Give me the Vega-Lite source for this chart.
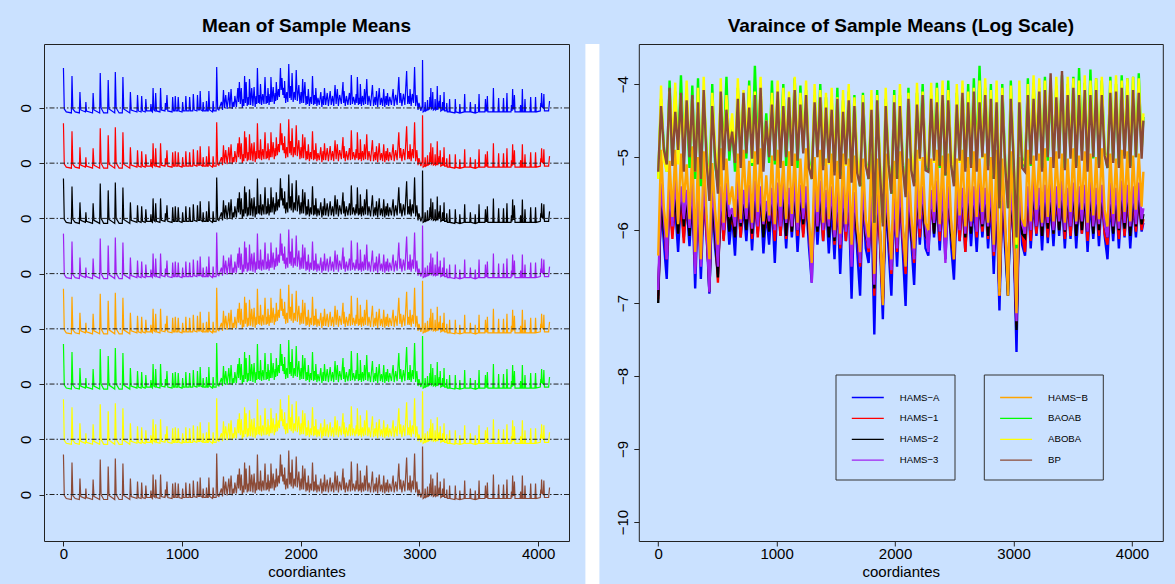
{
"$schema":"https://vega.github.io/schema/vega-lite/v6.json",
"background":"#CAE1FF",
"padding":{"left":0,"top":0,"right":12,"bottom":0},
"spacing":15.4,
"resolve":{"scale":{"color":"independent","stroke":"independent"},"legend":{"color":"independent","stroke":"independent"}},
"config":{
 "view":{"stroke":"#222","strokeWidth":1},
 "axis":{"labelFont":"Liberation Sans","labelFontSize":15,"labelColor":"#000","tickColor":"#222","tickSize":5,"tickWidth":1,"domain":false,"grid":false,"titleFont":"Liberation Sans","titleFontSize":15,"titleFontWeight":"normal","titleColor":"#000"},
 "title":{"font":"Liberation Sans","fontSize":19,"fontWeight":"bold","color":"#000","anchor":"middle"},
 "legend":{"labelFont":"Liberation Sans","labelFontSize":9.6,"labelColor":"#000"}
},
"datasets":{
"m":[
{"x":1,"a":40,"b":40,"c":40,"d":40,"e":40,"f":40,"g":40,"h":40},
{"x":8,"a":-1,"b":-1,"c":-1,"d":-1,"e":-1,"f":-1,"g":-1,"h":-1},
{"x":25,"a":-4,"b":-4,"c":-4,"d":-4,"e":-4,"f":-4,"g":-4,"h":-4},
{"x":68,"a":-5,"b":-5,"c":-5,"d":-5,"e":-5,"f":-5,"g":-5,"h":-5},
{"x":73,"a":32,"b":32,"c":32,"d":32,"e":32,"f":32,"g":32,"h":32},
{"x":80,"a":-1,"b":-1,"c":-1,"d":-1,"e":-1,"f":-1,"g":-1,"h":-1},
{"x":100,"a":-4,"b":-4,"c":-4,"d":-4,"e":-4,"f":-4,"g":-4,"h":-4},
{"x":135,"a":-5,"b":-5,"c":-5,"d":-5,"e":-5,"f":-5,"g":-5,"h":-5},
{"x":140,"a":16,"b":16,"c":16,"d":16,"e":16,"f":16,"g":16,"h":16},
{"x":147,"a":-2,"b":-2,"c":-2,"d":-2,"e":-2,"f":-2,"g":-2,"h":-2},
{"x":186,"a":-4,"b":-4,"c":-4,"d":-4,"e":-4,"f":-4,"g":-4,"h":-4},
{"x":190,"a":6,"b":6,"c":6,"d":6,"e":6,"f":6,"g":6,"h":6},
{"x":195,"a":-3,"b":-3,"c":-3,"d":-3,"e":-3,"f":-3,"g":-3,"h":-3},
{"x":246,"a":-5,"b":-5,"c":-5,"d":-5,"e":-5,"f":-5,"g":-5,"h":-5},
{"x":251,"a":15,"b":15,"c":15,"d":15,"e":15,"f":15,"g":15,"h":15},
{"x":258,"a":-2,"b":-2,"c":-2,"d":-2,"e":-2,"f":-2,"g":-2,"h":-2},
{"x":306,"a":-5,"b":-5,"c":-5,"d":-5,"e":-5,"f":-5,"g":-5,"h":-5},
{"x":311,"a":35,"b":35,"c":35,"d":35,"e":35,"f":35,"g":35,"h":35},
{"x":318,"a":0,"b":0,"c":0,"d":0,"e":0,"f":0,"g":0,"h":0},
{"x":340,"a":-5,"b":-5,"c":-5,"d":-5,"e":-5,"f":-5,"g":-5,"h":-5},
{"x":373,"a":-5,"b":-5,"c":-5,"d":-5,"e":-5,"f":-5,"g":-5,"h":-5},
{"x":378,"a":28,"b":28,"c":28,"d":28,"e":28,"f":28,"g":28,"h":28},
{"x":385,"a":-1,"b":-1,"c":-1,"d":-1,"e":-1,"f":-1,"g":-1,"h":-1},
{"x":433,"a":-5,"b":-5,"c":-5,"d":-5,"e":-5,"f":-5,"g":-5,"h":-5},
{"x":438,"a":36,"b":36,"c":36,"d":36,"e":36,"f":36,"g":36,"h":36},
{"x":445,"a":0,"b":0,"c":0,"d":0,"e":0,"f":0,"g":0,"h":0},
{"x":470,"a":-5,"b":-5,"c":-5,"d":-5,"e":-5,"f":-5,"g":-5,"h":-5},
{"x":497,"a":-5,"b":-5,"c":-5,"d":-5,"e":-5,"f":-5,"g":-5,"h":-5},
{"x":502,"a":31,"b":31,"c":31,"d":31,"e":31,"f":31,"g":31,"h":31},
{"x":509,"a":-1,"b":-1,"c":-1,"d":-1,"e":-1,"f":-1,"g":-1,"h":-1},
{"x":560,"a":-5,"b":-5,"c":-5,"d":-5,"e":-5,"f":-5,"g":-5,"h":-5},
{"x":565,"a":16,"b":16,"c":16,"d":16,"e":16,"f":16,"g":16,"h":16},
{"x":572,"a":-2,"b":-2,"c":-2,"d":-2,"e":-2,"f":-2,"g":-2,"h":-2},
{"x":620,"a":-4,"b":-4,"c":-4,"d":-4,"e":-4,"f":-4,"g":-4,"h":-4},
{"x":625,"a":13,"b":13,"c":13,"d":13,"e":13,"f":13,"g":13,"h":13},
{"x":632,"a":-3,"b":-3,"c":-3,"d":-3,"e":-3,"f":-3,"g":-3,"h":-3},
{"x":655,"a":-4,"b":-4,"c":-4,"d":-4,"e":-4,"f":-4,"g":-4,"h":-4},
{"x":660,"a":12,"b":12,"c":12,"d":12,"e":12,"f":12,"g":12,"h":12},
{"x":667,"a":-3,"b":-3,"c":-3,"d":-3,"e":-3,"f":-3,"g":-3,"h":-3},
{"x":690,"a":-4,"b":-4,"c":-4,"d":-4,"e":-4,"f":-4,"g":-4,"h":-4},
{"x":695,"a":9,"b":9,"c":9,"d":9,"e":9,"f":9,"g":9,"h":9},
{"x":702,"a":-3,"b":-3,"c":-3,"d":-3,"e":-3,"f":-3,"g":-3,"h":-3},
{"x":734,"a":-3,"b":-3,"c":-3,"d":-3,"e":-3,"f":-3,"g":-3,"h":-3},
{"x":738,"a":4,"b":4,"c":4,"d":4,"e":4,"f":4,"g":4,"h":4},
{"x":743,"a":-3,"b":-3,"c":-3,"d":-3,"e":-3,"f":-3,"g":-3,"h":-3},
{"x":751,"a":-4,"b":-4,"c":-4,"d":-4,"e":-4,"f":-4,"g":-4,"h":-4},
{"x":756,"a":20,"b":20,"c":20,"d":20,"e":20,"f":20,"g":20,"h":20},
{"x":763,"a":-2,"b":-2,"c":-2,"d":-2,"e":-2,"f":-2,"g":-2,"h":-2},
{"x":773,"a":-3,"b":-3,"c":-3,"d":-3,"e":-3,"f":-3,"g":-3,"h":-3},
{"x":778,"a":15,"b":15,"c":15,"d":15,"e":15,"f":15,"g":15,"h":15},
{"x":785,"a":-3,"b":-3,"c":-3,"d":-3,"e":-3,"f":-3,"g":-3,"h":-3},
{"x":814,"a":-4,"b":-4,"c":-4,"d":-4,"e":-4,"f":-4,"g":-4,"h":-4},
{"x":819,"a":20,"b":20,"c":20,"d":20,"e":20,"f":20,"g":20,"h":20},
{"x":826,"a":-2,"b":-2,"c":-2,"d":-2,"e":-2,"f":-2,"g":-2,"h":-2},
{"x":856,"a":-3,"b":-3,"c":-3,"d":-3,"e":-3,"f":-3,"g":-3,"h":-3},
{"x":860,"a":5,"b":5,"c":5,"d":5,"e":5,"f":5,"g":5,"h":5},
{"x":866,"a":-2,"b":-2,"c":-2,"d":-2,"e":-2,"f":-2,"g":-2,"h":-2},
{"x":873,"a":13,"b":13,"c":13,"d":13,"e":13,"f":13,"g":13,"h":13},
{"x":880,"a":-3,"b":-3,"c":-3,"d":-3,"e":-3,"f":-3,"g":-3,"h":-3},
{"x":916,"a":-4,"b":-4,"c":-4,"d":-4,"e":-4,"f":-4,"g":-4,"h":-4},
{"x":921,"a":11,"b":11,"c":11,"d":11,"e":11,"f":11,"g":11,"h":11},
{"x":928,"a":-3,"b":-3,"c":-3,"d":-3,"e":-3,"f":-3,"g":-3,"h":-3},
{"x":938,"a":-3,"b":-3,"c":-3,"d":-3,"e":-3,"f":-3,"g":-3,"h":-3},
{"x":943,"a":12,"b":12,"c":12,"d":12,"e":12,"f":12,"g":12,"h":12},
{"x":950,"a":-3,"b":-3,"c":-3,"d":-3,"e":-3,"f":-3,"g":-3,"h":-3},
{"x":963,"a":-3,"b":-3,"c":-3,"d":-3,"e":-3,"f":-3,"g":-3,"h":-3},
{"x":968,"a":11,"b":11,"c":11,"d":11,"e":11,"f":11,"g":11,"h":11},
{"x":975,"a":-3,"b":-3,"c":-3,"d":-3,"e":-3,"f":-3,"g":-3,"h":-3},
{"x":1000,"a":-4,"b":-4,"c":-4,"d":-4,"e":-4,"f":-4,"g":-4,"h":-4},
{"x":1005,"a":6,"b":6,"c":6,"d":6,"e":6,"f":6,"g":6,"h":6},
{"x":1011,"a":-3,"b":-3,"c":-3,"d":-3,"e":-3,"f":-3,"g":-3,"h":-3},
{"x":1027,"a":-3,"b":-3,"c":-3,"d":-3,"e":-3,"f":-3,"g":-3,"h":-3},
{"x":1032,"a":12,"b":12,"c":12,"d":12,"e":12,"f":12,"g":12,"h":12},
{"x":1039,"a":-3,"b":-3,"c":-3,"d":-3,"e":-3,"f":-3,"g":-3,"h":-3},
{"x":1059,"a":-3,"b":-3,"c":-3,"d":-3,"e":-3,"f":-3,"g":-3,"h":-3},
{"x":1064,"a":11,"b":11,"c":11,"d":11,"e":11,"f":11,"g":11,"h":11},
{"x":1071,"a":-3,"b":-3,"c":-3,"d":-3,"e":-3,"f":-3,"g":-3,"h":-3},
{"x":1090,"a":-3,"b":-3,"c":-3,"d":-3,"e":-3,"f":-3,"g":-3,"h":-3},
{"x":1095,"a":14,"b":14,"c":14,"d":14,"e":14,"f":14,"g":14,"h":14},
{"x":1102,"a":-2,"b":-2,"c":-2,"d":-2,"e":-2,"f":-2,"g":-2,"h":-2},
{"x":1125,"a":-3,"b":-3,"c":-3,"d":-3,"e":-3,"f":-3,"g":-3,"h":-3},
{"x":1130,"a":13,"b":13,"c":13,"d":13,"e":13,"f":13,"g":13,"h":13},
{"x":1137,"a":-2,"b":-2,"c":-2,"d":-2,"e":-2,"f":-2,"g":-2,"h":-2},
{"x":1148,"a":-2,"b":-2,"c":-2,"d":-2,"e":-2,"f":-2,"g":-2,"h":-2},
{"x":1153,"a":17,"b":17,"c":17,"d":17,"e":17,"f":17,"g":17,"h":17},
{"x":1160,"a":-2,"b":-2,"c":-2,"d":-2,"e":-2,"f":-2,"g":-2,"h":-2},
{"x":1173,"a":-3,"b":-3,"c":-3,"d":-3,"e":-3,"f":-3,"g":-3,"h":-3},
{"x":1178,"a":6,"b":6,"c":6,"d":6,"e":6,"f":6,"g":6,"h":6},
{"x":1184,"a":-3,"b":-3,"c":-3,"d":-3,"e":-3,"f":-3,"g":-3,"h":-3},
{"x":1201,"a":-3,"b":-3,"c":-3,"d":-3,"e":-3,"f":-3,"g":-3,"h":-3},
{"x":1206,"a":7,"b":7,"c":7,"d":7,"e":7,"f":7,"g":7,"h":7},
{"x":1212,"a":-3,"b":-3,"c":-3,"d":-3,"e":-3,"f":-3,"g":-3,"h":-3},
{"x":1221,"a":-3,"b":-3,"c":-3,"d":-3,"e":-3,"f":-3,"g":-3,"h":-3},
{"x":1226,"a":17,"b":17,"c":17,"d":17,"e":17,"f":17,"g":17,"h":17},
{"x":1233,"a":-2,"b":-2,"c":-2,"d":-2,"e":-2,"f":-2,"g":-2,"h":-2},
{"x":1257,"a":-4,"b":-4,"c":-4,"d":-4,"e":-4,"f":-4,"g":-4,"h":-4},
{"x":1262,"a":7,"b":7,"c":7,"d":7,"e":7,"f":7,"g":7,"h":7},
{"x":1268,"a":-3,"b":-3,"c":-3,"d":-3,"e":-3,"f":-3,"g":-3,"h":-3},
{"x":1287,"a":-3,"b":-3,"c":-3,"d":-3,"e":-3,"f":-3,"g":-3,"h":-3},
{"x":1292,"a":41,"b":41,"c":41,"d":41,"e":41,"f":41,"g":41,"h":41},
{"x":1300,"a":-1,"b":-1,"c":-1,"d":-1,"e":-1,"f":-1,"g":-1,"h":-1},
{"x":1310,"a":-2,"b":-2,"c":-2,"d":-2,"e":-2,"f":-2,"g":-2,"h":-2},
{"x":1332,"a":6,"b":6,"c":6,"d":6,"e":6,"f":6,"g":6,"h":6},
{"x":1341,"a":-2,"b":-2,"c":-2,"d":-2,"e":-2,"f":-2,"g":-2,"h":-2},
{"x":1349,"a":18,"b":18,"c":18,"d":18,"e":18,"f":18,"g":18,"h":18},
{"x":1358,"a":0,"b":0,"c":0,"d":0,"e":0,"f":0,"g":0,"h":0},
{"x":1368,"a":13,"b":13,"c":13,"d":13,"e":13,"f":13,"g":13,"h":13},
{"x":1380,"a":-1,"b":-1,"c":-1,"d":-1,"e":-1,"f":-1,"g":-1,"h":-1},
{"x":1394,"a":16,"b":16,"c":16,"d":16,"e":16,"f":16,"g":16,"h":16},
{"x":1403,"a":0,"b":0,"c":0,"d":0,"e":0,"f":0,"g":0,"h":0},
{"x":1413,"a":19,"b":19,"c":19,"d":19,"e":19,"f":19,"g":19,"h":19},
{"x":1423,"a":-1,"b":-1,"c":-1,"d":-1,"e":-1,"f":-1,"g":-1,"h":-1},
{"x":1432,"a":6,"b":6,"c":6,"d":6,"e":6,"f":6,"g":6,"h":6},
{"x":1438,"a":1,"b":1,"c":1,"d":1,"e":1,"f":1,"g":1,"h":1},
{"x":1445,"a":12,"b":12,"c":12,"d":12,"e":12,"f":12,"g":12,"h":12},
{"x":1458,"a":1,"b":1,"c":1,"d":1,"e":1,"f":1,"g":1,"h":1},
{"x":1470,"a":20,"b":20,"c":20,"d":20,"e":20,"f":20,"g":20,"h":20},
{"x":1476,"a":6,"b":6,"c":6,"d":6,"e":6,"f":6,"g":6,"h":6},
{"x":1483,"a":26,"b":26,"c":26,"d":26,"e":26,"f":26,"g":26,"h":26},
{"x":1491,"a":4,"b":4,"c":4,"d":4,"e":4,"f":4,"g":4,"h":4},
{"x":1499,"a":20,"b":20,"c":20,"d":20,"e":20,"f":20,"g":20,"h":20},
{"x":1508,"a":0,"b":0,"c":0,"d":0,"e":0,"f":0,"g":0,"h":0},
{"x":1516,"a":9,"b":9,"c":9,"d":9,"e":9,"f":9,"g":9,"h":9},
{"x":1521,"a":2,"b":2,"c":2,"d":2,"e":2,"f":2,"g":2,"h":2},
{"x":1527,"a":32,"b":32,"c":32,"d":32,"e":32,"f":32,"g":32,"h":32},
{"x":1534,"a":5,"b":5,"c":5,"d":5,"e":5,"f":5,"g":5,"h":5},
{"x":1540,"a":26,"b":26,"c":26,"d":26,"e":26,"f":26,"g":26,"h":26},
{"x":1549,"a":2,"b":2,"c":2,"d":2,"e":2,"f":2,"g":2,"h":2},
{"x":1558,"a":11,"b":11,"c":11,"d":11,"e":11,"f":11,"g":11,"h":11},
{"x":1563,"a":3,"b":3,"c":3,"d":3,"e":3,"f":3,"g":3,"h":3},
{"x":1568,"a":29,"b":29,"c":29,"d":29,"e":29,"f":29,"g":29,"h":29},
{"x":1578,"a":3,"b":3,"c":3,"d":3,"e":3,"f":3,"g":3,"h":3},
{"x":1587,"a":20,"b":20,"c":20,"d":20,"e":20,"f":20,"g":20,"h":20},
{"x":1597,"a":2,"b":2,"c":2,"d":2,"e":2,"f":2,"g":2,"h":2},
{"x":1607,"a":21,"b":21,"c":21,"d":21,"e":21,"f":21,"g":21,"h":21},
{"x":1616,"a":1,"b":1,"c":1,"d":1,"e":1,"f":1,"g":1,"h":1},
{"x":1624,"a":12,"b":12,"c":12,"d":12,"e":12,"f":12,"g":12,"h":12},
{"x":1629,"a":4,"b":4,"c":4,"d":4,"e":4,"f":4,"g":4,"h":4},
{"x":1635,"a":40,"b":40,"c":40,"d":40,"e":40,"f":40,"g":40,"h":40},
{"x":1643,"a":5,"b":5,"c":5,"d":5,"e":5,"f":5,"g":5,"h":5},
{"x":1650,"a":13,"b":13,"c":13,"d":13,"e":13,"f":13,"g":13,"h":13},
{"x":1655,"a":4,"b":4,"c":4,"d":4,"e":4,"f":4,"g":4,"h":4},
{"x":1661,"a":24,"b":24,"c":24,"d":24,"e":24,"f":24,"g":24,"h":24},
{"x":1670,"a":3,"b":3,"c":3,"d":3,"e":3,"f":3,"g":3,"h":3},
{"x":1680,"a":14,"b":14,"c":14,"d":14,"e":14,"f":14,"g":14,"h":14},
{"x":1690,"a":4,"b":4,"c":4,"d":4,"e":4,"f":4,"g":4,"h":4},
{"x":1699,"a":31,"b":31,"c":31,"d":31,"e":31,"f":31,"g":31,"h":31},
{"x":1708,"a":4,"b":4,"c":4,"d":4,"e":4,"f":4,"g":4,"h":4},
{"x":1715,"a":12,"b":12,"c":12,"d":12,"e":12,"f":12,"g":12,"h":12},
{"x":1719,"a":5,"b":5,"c":5,"d":5,"e":5,"f":5,"g":5,"h":5},
{"x":1724,"a":20,"b":20,"c":20,"d":20,"e":20,"f":20,"g":20,"h":20},
{"x":1733,"a":3,"b":3,"c":3,"d":3,"e":3,"f":3,"g":3,"h":3},
{"x":1741,"a":14,"b":14,"c":14,"d":14,"e":14,"f":14,"g":14,"h":14},
{"x":1745,"a":6,"b":6,"c":6,"d":6,"e":6,"f":6,"g":6,"h":6},
{"x":1749,"a":31,"b":31,"c":31,"d":31,"e":31,"f":31,"g":31,"h":31},
{"x":1758,"a":6,"b":6,"c":6,"d":6,"e":6,"f":6,"g":6,"h":6},
{"x":1768,"a":21,"b":21,"c":21,"d":21,"e":21,"f":21,"g":21,"h":21},
{"x":1777,"a":4,"b":4,"c":4,"d":4,"e":4,"f":4,"g":4,"h":4},
{"x":1785,"a":15,"b":15,"c":15,"d":15,"e":15,"f":15,"g":15,"h":15},
{"x":1789,"a":7,"b":7,"c":7,"d":7,"e":7,"f":7,"g":7,"h":7},
{"x":1794,"a":26,"b":26,"c":26,"d":26,"e":26,"f":26,"g":26,"h":26},
{"x":1803,"a":8,"b":8,"c":8,"d":8,"e":8,"f":8,"g":8,"h":8},
{"x":1812,"a":19,"b":19,"c":19,"d":19,"e":19,"f":19,"g":19,"h":19},
{"x":1820,"a":11,"b":11,"c":11,"d":11,"e":11,"f":11,"g":11,"h":11},
{"x":1829,"a":40,"b":40,"c":40,"d":40,"e":40,"f":40,"g":40,"h":40},
{"x":1835,"a":18,"b":18,"c":18,"d":18,"e":18,"f":18,"g":18,"h":18},
{"x":1842,"a":30,"b":30,"c":30,"d":30,"e":30,"f":30,"g":30,"h":30},
{"x":1849,"a":13,"b":13,"c":13,"d":13,"e":13,"f":13,"g":13,"h":13},
{"x":1857,"a":20,"b":20,"c":20,"d":20,"e":20,"f":20,"g":20,"h":20},
{"x":1861,"a":10,"b":10,"c":10,"d":10,"e":10,"f":10,"g":10,"h":10},
{"x":1864,"a":27,"b":27,"c":27,"d":27,"e":27,"f":27,"g":27,"h":27},
{"x":1873,"a":5,"b":5,"c":5,"d":5,"e":5,"f":5,"g":5,"h":5},
{"x":1882,"a":16,"b":16,"c":16,"d":16,"e":16,"f":16,"g":16,"h":16},
{"x":1891,"a":6,"b":6,"c":6,"d":6,"e":6,"f":6,"g":6,"h":6},
{"x":1899,"a":44,"b":44,"c":44,"d":44,"e":44,"f":44,"g":44,"h":44},
{"x":1907,"a":10,"b":10,"c":10,"d":10,"e":10,"f":10,"g":10,"h":10},
{"x":1915,"a":22,"b":22,"c":22,"d":22,"e":22,"f":22,"g":22,"h":22},
{"x":1920,"a":8,"b":8,"c":8,"d":8,"e":8,"f":8,"g":8,"h":8},
{"x":1927,"a":35,"b":35,"c":35,"d":35,"e":35,"f":35,"g":35,"h":35},
{"x":1936,"a":6,"b":6,"c":6,"d":6,"e":6,"f":6,"g":6,"h":6},
{"x":1945,"a":16,"b":16,"c":16,"d":16,"e":16,"f":16,"g":16,"h":16},
{"x":1954,"a":8,"b":8,"c":8,"d":8,"e":8,"f":8,"g":8,"h":8},
{"x":1962,"a":38,"b":38,"c":38,"d":38,"e":38,"f":38,"g":38,"h":38},
{"x":1971,"a":7,"b":7,"c":7,"d":7,"e":7,"f":7,"g":7,"h":7},
{"x":1984,"a":23,"b":23,"c":23,"d":23,"e":23,"f":23,"g":23,"h":23},
{"x":1993,"a":4,"b":4,"c":4,"d":4,"e":4,"f":4,"g":4,"h":4},
{"x":2003,"a":16,"b":16,"c":16,"d":16,"e":16,"f":16,"g":16,"h":16},
{"x":2009,"a":5,"b":5,"c":5,"d":5,"e":5,"f":5,"g":5,"h":5},
{"x":2016,"a":29,"b":29,"c":29,"d":29,"e":29,"f":29,"g":29,"h":29},
{"x":2024,"a":5,"b":5,"c":5,"d":5,"e":5,"f":5,"g":5,"h":5},
{"x":2035,"a":26,"b":26,"c":26,"d":26,"e":26,"f":26,"g":26,"h":26},
{"x":2044,"a":3,"b":3,"c":3,"d":3,"e":3,"f":3,"g":3,"h":3},
{"x":2052,"a":12,"b":12,"c":12,"d":12,"e":12,"f":12,"g":12,"h":12},
{"x":2057,"a":4,"b":4,"c":4,"d":4,"e":4,"f":4,"g":4,"h":4},
{"x":2064,"a":19,"b":19,"c":19,"d":19,"e":19,"f":19,"g":19,"h":19},
{"x":2073,"a":2,"b":2,"c":2,"d":2,"e":2,"f":2,"g":2,"h":2},
{"x":2082,"a":11,"b":11,"c":11,"d":11,"e":11,"f":11,"g":11,"h":11},
{"x":2091,"a":4,"b":4,"c":4,"d":4,"e":4,"f":4,"g":4,"h":4},
{"x":2099,"a":32,"b":32,"c":32,"d":32,"e":32,"f":32,"g":32,"h":32},
{"x":2108,"a":3,"b":3,"c":3,"d":3,"e":3,"f":3,"g":3,"h":3},
{"x":2116,"a":13,"b":13,"c":13,"d":13,"e":13,"f":13,"g":13,"h":13},
{"x":2121,"a":4,"b":4,"c":4,"d":4,"e":4,"f":4,"g":4,"h":4},
{"x":2127,"a":20,"b":20,"c":20,"d":20,"e":20,"f":20,"g":20,"h":20},
{"x":2136,"a":2,"b":2,"c":2,"d":2,"e":2,"f":2,"g":2,"h":2},
{"x":2145,"a":10,"b":10,"c":10,"d":10,"e":10,"f":10,"g":10,"h":10},
{"x":2156,"a":3,"b":3,"c":3,"d":3,"e":3,"f":3,"g":3,"h":3},
{"x":2169,"a":16,"b":16,"c":16,"d":16,"e":16,"f":16,"g":16,"h":16},
{"x":2178,"a":1,"b":1,"c":1,"d":1,"e":1,"f":1,"g":1,"h":1},
{"x":2188,"a":12,"b":12,"c":12,"d":12,"e":12,"f":12,"g":12,"h":12},
{"x":2193,"a":3,"b":3,"c":3,"d":3,"e":3,"f":3,"g":3,"h":3},
{"x":2200,"a":20,"b":20,"c":20,"d":20,"e":20,"f":20,"g":20,"h":20},
{"x":2210,"a":3,"b":3,"c":3,"d":3,"e":3,"f":3,"g":3,"h":3},
{"x":2223,"a":15,"b":15,"c":15,"d":15,"e":15,"f":15,"g":15,"h":15},
{"x":2233,"a":2,"b":2,"c":2,"d":2,"e":2,"f":2,"g":2,"h":2},
{"x":2248,"a":17,"b":17,"c":17,"d":17,"e":17,"f":17,"g":17,"h":17},
{"x":2257,"a":3,"b":3,"c":3,"d":3,"e":3,"f":3,"g":3,"h":3},
{"x":2268,"a":12,"b":12,"c":12,"d":12,"e":12,"f":12,"g":12,"h":12},
{"x":2278,"a":2,"b":2,"c":2,"d":2,"e":2,"f":2,"g":2,"h":2},
{"x":2289,"a":23,"b":23,"c":23,"d":23,"e":23,"f":23,"g":23,"h":23},
{"x":2298,"a":4,"b":4,"c":4,"d":4,"e":4,"f":4,"g":4,"h":4},
{"x":2308,"a":19,"b":19,"c":19,"d":19,"e":19,"f":19,"g":19,"h":19},
{"x":2317,"a":2,"b":2,"c":2,"d":2,"e":2,"f":2,"g":2,"h":2},
{"x":2328,"a":13,"b":13,"c":13,"d":13,"e":13,"f":13,"g":13,"h":13},
{"x":2342,"a":4,"b":4,"c":4,"d":4,"e":4,"f":4,"g":4,"h":4},
{"x":2356,"a":26,"b":26,"c":26,"d":26,"e":26,"f":26,"g":26,"h":26},
{"x":2361,"a":5,"b":5,"c":5,"d":5,"e":5,"f":5,"g":5,"h":5},
{"x":2365,"a":17,"b":17,"c":17,"d":17,"e":17,"f":17,"g":17,"h":17},
{"x":2375,"a":2,"b":2,"c":2,"d":2,"e":2,"f":2,"g":2,"h":2},
{"x":2385,"a":12,"b":12,"c":12,"d":12,"e":12,"f":12,"g":12,"h":12},
{"x":2397,"a":3,"b":3,"c":3,"d":3,"e":3,"f":3,"g":3,"h":3},
{"x":2410,"a":15,"b":15,"c":15,"d":15,"e":15,"f":15,"g":15,"h":15},
{"x":2419,"a":3,"b":3,"c":3,"d":3,"e":3,"f":3,"g":3,"h":3},
{"x":2426,"a":33,"b":33,"c":33,"d":33,"e":33,"f":33,"g":33,"h":33},
{"x":2435,"a":4,"b":4,"c":4,"d":4,"e":4,"f":4,"g":4,"h":4},
{"x":2445,"a":11,"b":11,"c":11,"d":11,"e":11,"f":11,"g":11,"h":11},
{"x":2457,"a":3,"b":3,"c":3,"d":3,"e":3,"f":3,"g":3,"h":3},
{"x":2467,"a":14,"b":14,"c":14,"d":14,"e":14,"f":14,"g":14,"h":14},
{"x":2472,"a":5,"b":5,"c":5,"d":5,"e":5,"f":5,"g":5,"h":5},
{"x":2477,"a":31,"b":31,"c":31,"d":31,"e":31,"f":31,"g":31,"h":31},
{"x":2486,"a":3,"b":3,"c":3,"d":3,"e":3,"f":3,"g":3,"h":3},
{"x":2494,"a":10,"b":10,"c":10,"d":10,"e":10,"f":10,"g":10,"h":10},
{"x":2498,"a":4,"b":4,"c":4,"d":4,"e":4,"f":4,"g":4,"h":4},
{"x":2502,"a":24,"b":24,"c":24,"d":24,"e":24,"f":24,"g":24,"h":24},
{"x":2511,"a":2,"b":2,"c":2,"d":2,"e":2,"f":2,"g":2,"h":2},
{"x":2520,"a":12,"b":12,"c":12,"d":12,"e":12,"f":12,"g":12,"h":12},
{"x":2530,"a":3,"b":3,"c":3,"d":3,"e":3,"f":3,"g":3,"h":3},
{"x":2537,"a":19,"b":19,"c":19,"d":19,"e":19,"f":19,"g":19,"h":19},
{"x":2546,"a":4,"b":4,"c":4,"d":4,"e":4,"f":4,"g":4,"h":4},
{"x":2556,"a":29,"b":29,"c":29,"d":29,"e":29,"f":29,"g":29,"h":29},
{"x":2565,"a":3,"b":3,"c":3,"d":3,"e":3,"f":3,"g":3,"h":3},
{"x":2575,"a":12,"b":12,"c":12,"d":12,"e":12,"f":12,"g":12,"h":12},
{"x":2588,"a":2,"b":2,"c":2,"d":2,"e":2,"f":2,"g":2,"h":2},
{"x":2604,"a":23,"b":23,"c":23,"d":23,"e":23,"f":23,"g":23,"h":23},
{"x":2613,"a":2,"b":2,"c":2,"d":2,"e":2,"f":2,"g":2,"h":2},
{"x":2625,"a":11,"b":11,"c":11,"d":11,"e":11,"f":11,"g":11,"h":11},
{"x":2631,"a":3,"b":3,"c":3,"d":3,"e":3,"f":3,"g":3,"h":3},
{"x":2638,"a":17,"b":17,"c":17,"d":17,"e":17,"f":17,"g":17,"h":17},
{"x":2648,"a":1,"b":1,"c":1,"d":1,"e":1,"f":1,"g":1,"h":1},
{"x":2661,"a":20,"b":20,"c":20,"d":20,"e":20,"f":20,"g":20,"h":20},
{"x":2670,"a":3,"b":3,"c":3,"d":3,"e":3,"f":3,"g":3,"h":3},
{"x":2680,"a":10,"b":10,"c":10,"d":10,"e":10,"f":10,"g":10,"h":10},
{"x":2690,"a":2,"b":2,"c":2,"d":2,"e":2,"f":2,"g":2,"h":2},
{"x":2699,"a":19,"b":19,"c":19,"d":19,"e":19,"f":19,"g":19,"h":19},
{"x":2708,"a":1,"b":1,"c":1,"d":1,"e":1,"f":1,"g":1,"h":1},
{"x":2718,"a":12,"b":12,"c":12,"d":12,"e":12,"f":12,"g":12,"h":12},
{"x":2724,"a":3,"b":3,"c":3,"d":3,"e":3,"f":3,"g":3,"h":3},
{"x":2731,"a":15,"b":15,"c":15,"d":15,"e":15,"f":15,"g":15,"h":15},
{"x":2740,"a":2,"b":2,"c":2,"d":2,"e":2,"f":2,"g":2,"h":2},
{"x":2750,"a":11,"b":11,"c":11,"d":11,"e":11,"f":11,"g":11,"h":11},
{"x":2764,"a":3,"b":3,"c":3,"d":3,"e":3,"f":3,"g":3,"h":3},
{"x":2778,"a":19,"b":19,"c":19,"d":19,"e":19,"f":19,"g":19,"h":19},
{"x":2787,"a":2,"b":2,"c":2,"d":2,"e":2,"f":2,"g":2,"h":2},
{"x":2800,"a":13,"b":13,"c":13,"d":13,"e":13,"f":13,"g":13,"h":13},
{"x":2812,"a":3,"b":3,"c":3,"d":3,"e":3,"f":3,"g":3,"h":3},
{"x":2826,"a":31,"b":31,"c":31,"d":31,"e":31,"f":31,"g":31,"h":31},
{"x":2835,"a":5,"b":5,"c":5,"d":5,"e":5,"f":5,"g":5,"h":5},
{"x":2842,"a":15,"b":15,"c":15,"d":15,"e":15,"f":15,"g":15,"h":15},
{"x":2852,"a":2,"b":2,"c":2,"d":2,"e":2,"f":2,"g":2,"h":2},
{"x":2865,"a":14,"b":14,"c":14,"d":14,"e":14,"f":14,"g":14,"h":14},
{"x":2877,"a":3,"b":3,"c":3,"d":3,"e":3,"f":3,"g":3,"h":3},
{"x":2892,"a":37,"b":37,"c":37,"d":37,"e":37,"f":37,"g":37,"h":37},
{"x":2901,"a":4,"b":4,"c":4,"d":4,"e":4,"f":4,"g":4,"h":4},
{"x":2910,"a":12,"b":12,"c":12,"d":12,"e":12,"f":12,"g":12,"h":12},
{"x":2916,"a":4,"b":4,"c":4,"d":4,"e":4,"f":4,"g":4,"h":4},
{"x":2921,"a":19,"b":19,"c":19,"d":19,"e":19,"f":19,"g":19,"h":19},
{"x":2930,"a":2,"b":2,"c":2,"d":2,"e":2,"f":2,"g":2,"h":2},
{"x":2940,"a":14,"b":14,"c":14,"d":14,"e":14,"f":14,"g":14,"h":14},
{"x":2950,"a":5,"b":5,"c":5,"d":5,"e":5,"f":5,"g":5,"h":5},
{"x":2959,"a":41,"b":41,"c":41,"d":41,"e":41,"f":41,"g":41,"h":41},
{"x":2968,"a":2,"b":2,"c":2,"d":2,"e":2,"f":2,"g":2,"h":2},
{"x":2978,"a":13,"b":13,"c":13,"d":13,"e":13,"f":13,"g":13,"h":13},
{"x":2988,"a":-2,"b":-2,"c":-2,"d":-2,"e":-2,"f":-2,"g":-2,"h":-2},
{"x":2996,"a":5,"b":5,"c":5,"d":5,"e":5,"f":5,"g":5,"h":5},
{"x":3012,"a":-3,"b":-3,"c":-3,"d":-3,"e":-3,"f":-3,"g":-3,"h":-3},
{"x":3023,"a":2,"b":2,"c":2,"d":2,"e":2,"f":2,"g":2,"h":2},
{"x":3026,"a":48,"b":48,"c":48,"d":48,"e":48,"f":48,"g":48,"h":48},
{"x":3031,"a":-4,"b":-4,"c":-4,"d":-4,"e":-4,"f":-4,"g":-4,"h":-4},
{"x":3043,"a":-3,"b":-3,"c":-3,"d":-3,"e":-3,"f":-3,"g":-3,"h":-3},
{"x":3048,"a":6,"b":6,"c":6,"d":6,"e":6,"f":6,"g":6,"h":6},
{"x":3053,"a":-3,"b":-3,"c":-3,"d":-3,"e":-3,"f":-3,"g":-3,"h":-3},
{"x":3063,"a":-2,"b":-2,"c":-2,"d":-2,"e":-2,"f":-2,"g":-2,"h":-2},
{"x":3068,"a":8,"b":8,"c":8,"d":8,"e":8,"f":8,"g":8,"h":8},
{"x":3073,"a":-2,"b":-2,"c":-2,"d":-2,"e":-2,"f":-2,"g":-2,"h":-2},
{"x":3084,"a":-1,"b":-1,"c":-1,"d":-1,"e":-1,"f":-1,"g":-1,"h":-1},
{"x":3088,"a":11,"b":11,"c":11,"d":11,"e":11,"f":11,"g":11,"h":11},
{"x":3092,"a":1,"b":1,"c":1,"d":1,"e":1,"f":1,"g":1,"h":1},
{"x":3096,"a":20,"b":20,"c":20,"d":20,"e":20,"f":20,"g":20,"h":20},
{"x":3101,"a":-1,"b":-1,"c":-1,"d":-1,"e":-1,"f":-1,"g":-1,"h":-1},
{"x":3108,"a":0,"b":0,"c":0,"d":0,"e":0,"f":0,"g":0,"h":0},
{"x":3112,"a":16,"b":16,"c":16,"d":16,"e":16,"f":16,"g":16,"h":16},
{"x":3117,"a":-2,"b":-2,"c":-2,"d":-2,"e":-2,"f":-2,"g":-2,"h":-2},
{"x":3128,"a":-1,"b":-1,"c":-1,"d":-1,"e":-1,"f":-1,"g":-1,"h":-1},
{"x":3132,"a":9,"b":9,"c":9,"d":9,"e":9,"f":9,"g":9,"h":9},
{"x":3137,"a":-2,"b":-2,"c":-2,"d":-2,"e":-2,"f":-2,"g":-2,"h":-2},
{"x":3146,"a":-1,"b":-1,"c":-1,"d":-1,"e":-1,"f":-1,"g":-1,"h":-1},
{"x":3150,"a":22,"b":22,"c":22,"d":22,"e":22,"f":22,"g":22,"h":22},
{"x":3155,"a":-2,"b":-2,"c":-2,"d":-2,"e":-2,"f":-2,"g":-2,"h":-2},
{"x":3167,"a":7,"b":7,"c":7,"d":7,"e":7,"f":7,"g":7,"h":7},
{"x":3171,"a":0,"b":0,"c":0,"d":0,"e":0,"f":0,"g":0,"h":0},
{"x":3175,"a":13,"b":13,"c":13,"d":13,"e":13,"f":13,"g":13,"h":13},
{"x":3180,"a":-3,"b":-3,"c":-3,"d":-3,"e":-3,"f":-3,"g":-3,"h":-3},
{"x":3191,"a":-2,"b":-2,"c":-2,"d":-2,"e":-2,"f":-2,"g":-2,"h":-2},
{"x":3195,"a":6,"b":6,"c":6,"d":6,"e":6,"f":6,"g":6,"h":6},
{"x":3200,"a":-2,"b":-2,"c":-2,"d":-2,"e":-2,"f":-2,"g":-2,"h":-2},
{"x":3203,"a":-2,"b":-2,"c":-2,"d":-2,"e":-2,"f":-2,"g":-2,"h":-2},
{"x":3207,"a":16,"b":16,"c":16,"d":16,"e":16,"f":16,"g":16,"h":16},
{"x":3212,"a":-3,"b":-3,"c":-3,"d":-3,"e":-3,"f":-3,"g":-3,"h":-3},
{"x":3226,"a":-3,"b":-3,"c":-3,"d":-3,"e":-3,"f":-3,"g":-3,"h":-3},
{"x":3230,"a":5,"b":5,"c":5,"d":5,"e":5,"f":5,"g":5,"h":5},
{"x":3235,"a":-4,"b":-4,"c":-4,"d":-4,"e":-4,"f":-4,"g":-4,"h":-4},
{"x":3250,"a":-4,"b":-4,"c":-4,"d":-4,"e":-4,"f":-4,"g":-4,"h":-4},
{"x":3254,"a":9,"b":9,"c":9,"d":9,"e":9,"f":9,"g":9,"h":9},
{"x":3259,"a":-4,"b":-4,"c":-4,"d":-4,"e":-4,"f":-4,"g":-4,"h":-4},
{"x":3298,"a":-5,"b":-5,"c":-5,"d":-5,"e":-5,"f":-5,"g":-5,"h":-5},
{"x":3302,"a":9,"b":9,"c":9,"d":9,"e":9,"f":9,"g":9,"h":9},
{"x":3307,"a":-4,"b":-4,"c":-4,"d":-4,"e":-4,"f":-4,"g":-4,"h":-4},
{"x":3336,"a":-5,"b":-5,"c":-5,"d":-5,"e":-5,"f":-5,"g":-5,"h":-5},
{"x":3340,"a":4,"b":4,"c":4,"d":4,"e":4,"f":4,"g":4,"h":4},
{"x":3345,"a":-5,"b":-5,"c":-5,"d":-5,"e":-5,"f":-5,"g":-5,"h":-5},
{"x":3376,"a":-4,"b":-4,"c":-4,"d":-4,"e":-4,"f":-4,"g":-4,"h":-4},
{"x":3381,"a":14,"b":14,"c":14,"d":14,"e":14,"f":14,"g":14,"h":14},
{"x":3386,"a":-4,"b":-4,"c":-4,"d":-4,"e":-4,"f":-4,"g":-4,"h":-4},
{"x":3424,"a":-4,"b":-4,"c":-4,"d":-4,"e":-4,"f":-4,"g":-4,"h":-4},
{"x":3429,"a":6,"b":6,"c":6,"d":6,"e":6,"f":6,"g":6,"h":6},
{"x":3434,"a":-4,"b":-4,"c":-4,"d":-4,"e":-4,"f":-4,"g":-4,"h":-4},
{"x":3466,"a":-5,"b":-5,"c":-5,"d":-5,"e":-5,"f":-5,"g":-5,"h":-5},
{"x":3470,"a":4,"b":4,"c":4,"d":4,"e":4,"f":4,"g":4,"h":4},
{"x":3475,"a":-5,"b":-5,"c":-5,"d":-5,"e":-5,"f":-5,"g":-5,"h":-5},
{"x":3497,"a":-4,"b":-4,"c":-4,"d":-4,"e":-4,"f":-4,"g":-4,"h":-4},
{"x":3502,"a":14,"b":14,"c":14,"d":14,"e":14,"f":14,"g":14,"h":14},
{"x":3507,"a":-4,"b":-4,"c":-4,"d":-4,"e":-4,"f":-4,"g":-4,"h":-4},
{"x":3551,"a":-4,"b":-4,"c":-4,"d":-4,"e":-4,"f":-4,"g":-4,"h":-4},
{"x":3556,"a":9,"b":9,"c":9,"d":9,"e":9,"f":9,"g":9,"h":9},
{"x":3561,"a":-3,"b":-3,"c":-3,"d":-3,"e":-3,"f":-3,"g":-3,"h":-3},
{"x":3567,"a":-3,"b":-3,"c":-3,"d":-3,"e":-3,"f":-3,"g":-3,"h":-3},
{"x":3572,"a":12,"b":12,"c":12,"d":12,"e":12,"f":12,"g":12,"h":12},
{"x":3577,"a":-4,"b":-4,"c":-4,"d":-4,"e":-4,"f":-4,"g":-4,"h":-4},
{"x":3618,"a":-4,"b":-4,"c":-4,"d":-4,"e":-4,"f":-4,"g":-4,"h":-4},
{"x":3623,"a":20,"b":20,"c":20,"d":20,"e":20,"f":20,"g":20,"h":20},
{"x":3628,"a":-4,"b":-4,"c":-4,"d":-4,"e":-4,"f":-4,"g":-4,"h":-4},
{"x":3662,"a":-4,"b":-4,"c":-4,"d":-4,"e":-4,"f":-4,"g":-4,"h":-4},
{"x":3667,"a":10,"b":10,"c":10,"d":10,"e":10,"f":10,"g":10,"h":10},
{"x":3672,"a":-4,"b":-4,"c":-4,"d":-4,"e":-4,"f":-4,"g":-4,"h":-4},
{"x":3703,"a":-4,"b":-4,"c":-4,"d":-4,"e":-4,"f":-4,"g":-4,"h":-4},
{"x":3708,"a":10,"b":10,"c":10,"d":10,"e":10,"f":10,"g":10,"h":10},
{"x":3713,"a":-4,"b":-4,"c":-4,"d":-4,"e":-4,"f":-4,"g":-4,"h":-4},
{"x":3732,"a":-4,"b":-4,"c":-4,"d":-4,"e":-4,"f":-4,"g":-4,"h":-4},
{"x":3737,"a":15,"b":15,"c":15,"d":15,"e":15,"f":15,"g":15,"h":15},
{"x":3742,"a":-4,"b":-4,"c":-4,"d":-4,"e":-4,"f":-4,"g":-4,"h":-4},
{"x":3771,"a":-4,"b":-4,"c":-4,"d":-4,"e":-4,"f":-4,"g":-4,"h":-4},
{"x":3775,"a":3,"b":3,"c":3,"d":3,"e":3,"f":3,"g":3,"h":3},
{"x":3780,"a":-3,"b":-3,"c":-3,"d":-3,"e":-3,"f":-3,"g":-3,"h":-3},
{"x":3785,"a":19,"b":19,"c":19,"d":19,"e":19,"f":19,"g":19,"h":19},
{"x":3790,"a":-1,"b":-1,"c":-1,"d":-1,"e":-1,"f":-1,"g":-1,"h":-1},
{"x":3795,"a":-1,"b":-1,"c":-1,"d":-1,"e":-1,"f":-1,"g":-1,"h":-1},
{"x":3800,"a":13,"b":13,"c":13,"d":13,"e":13,"f":13,"g":13,"h":13},
{"x":3805,"a":-4,"b":-4,"c":-4,"d":-4,"e":-4,"f":-4,"g":-4,"h":-4},
{"x":3848,"a":-4,"b":-4,"c":-4,"d":-4,"e":-4,"f":-4,"g":-4,"h":-4},
{"x":3852,"a":3,"b":3,"c":3,"d":3,"e":3,"f":3,"g":3,"h":3},
{"x":3857,"a":-4,"b":-4,"c":-4,"d":-4,"e":-4,"f":-4,"g":-4,"h":-4},
{"x":3862,"a":-4,"b":-4,"c":-4,"d":-4,"e":-4,"f":-4,"g":-4,"h":-4},
{"x":3867,"a":19,"b":19,"c":19,"d":19,"e":19,"f":19,"g":19,"h":19},
{"x":3872,"a":-4,"b":-4,"c":-4,"d":-4,"e":-4,"f":-4,"g":-4,"h":-4},
{"x":3884,"a":-4,"b":-4,"c":-4,"d":-4,"e":-4,"f":-4,"g":-4,"h":-4},
{"x":3889,"a":9,"b":9,"c":9,"d":9,"e":9,"f":9,"g":9,"h":9},
{"x":3894,"a":-4,"b":-4,"c":-4,"d":-4,"e":-4,"f":-4,"g":-4,"h":-4},
{"x":3932,"a":-4,"b":-4,"c":-4,"d":-4,"e":-4,"f":-4,"g":-4,"h":-4},
{"x":3937,"a":11,"b":11,"c":11,"d":11,"e":11,"f":11,"g":11,"h":11},
{"x":3942,"a":-4,"b":-4,"c":-4,"d":-4,"e":-4,"f":-4,"g":-4,"h":-4},
{"x":3973,"a":-4,"b":-4,"c":-4,"d":-4,"e":-4,"f":-4,"g":-4,"h":-4},
{"x":3978,"a":11,"b":11,"c":11,"d":11,"e":11,"f":11,"g":11,"h":11},
{"x":3983,"a":-4,"b":-4,"c":-4,"d":-4,"e":-4,"f":-4,"g":-4,"h":-4},
{"x":4018,"a":-3,"b":-3,"c":-3,"d":-3,"e":-3,"f":-3,"g":-3,"h":-3},
{"x":4022,"a":5,"b":5,"c":5,"d":5,"e":5,"f":5,"g":5,"h":5},
{"x":4025,"a":1,"b":1,"c":1,"d":1,"e":1,"f":1,"g":1,"h":1},
{"x":4029,"a":15,"b":15,"c":15,"d":15,"e":15,"f":15,"g":15,"h":15},
{"x":4034,"a":1,"b":1,"c":1,"d":1,"e":1,"f":1,"g":1,"h":1},
{"x":4043,"a":0,"b":0,"c":0,"d":0,"e":0,"f":0,"g":0,"h":0},
{"x":4048,"a":14,"b":14,"c":14,"d":14,"e":14,"f":14,"g":14,"h":14},
{"x":4053,"a":-3,"b":-3,"c":-3,"d":-3,"e":-3,"f":-3,"g":-3,"h":-3},
{"x":4088,"a":-3,"b":-3,"c":-3,"d":-3,"e":-3,"f":-3,"g":-3,"h":-3},
{"x":4096,"a":7,"b":7,"c":7,"d":7,"e":7,"f":7,"g":7,"h":7}
],
"v":[
{"x":1,"a":-6.9,"b":-6.95,"c":-7.0,"d":-6.82,"e":-6.35,"f":-5.3,"g":-5.3,"h":-5.2},
{"x":25,"a":-5.62,"b":-5.5,"c":-5.52,"d":-5.36,"e":-4.9,"f":-4.2,"g":-4.02,"h":-4.3},
{"x":49,"a":-6.18,"b":-5.95,"c":-6.0,"d":-5.82,"e":-5.7,"f":-4.85,"g":-5.05,"h":-4.9},
{"x":73,"a":-6.67,"b":-6.4,"c":-6.3,"d":-6.4,"e":-6.1,"f":-5.2,"g":-5.2,"h":-5.1},
{"x":97,"a":-5.5,"b":-5.6,"c":-5.45,"d":-5.42,"e":-5.05,"f":-3.95,"g":-4.1,"h":-4.05},
{"x":121,"a":-6.05,"b":-6.12,"c":-5.9,"d":-5.95,"e":-5.82,"f":-5.1,"g":-4.8,"h":-5.12},
{"x":145,"a":-5.7,"b":-5.5,"c":-5.58,"d":-5.3,"e":-4.9,"f":-4.1,"g":-3.98,"h":-4.38},
{"x":169,"a":-6.3,"b":-6.05,"c":-6.05,"d":-5.9,"e":-5.92,"f":-4.95,"g":-5.1,"h":-4.9},
{"x":193,"a":-5.55,"b":-5.62,"c":-5.42,"d":-5.4,"e":-4.95,"f":-3.88,"g":-4.15,"h":-4.12},
{"x":217,"a":-6.1,"b":-6.18,"c":-5.95,"d":-5.85,"e":-5.62,"f":-5.0,"g":-4.9,"h":-5.2},
{"x":241,"a":-5.65,"b":-5.48,"c":-5.55,"d":-5.45,"e":-5.1,"f":-4.25,"g":-3.95,"h":-4.22},
{"x":265,"a":-6.22,"b":-6.0,"c":-6.08,"d":-5.97,"e":-5.85,"f":-5.15,"g":-4.95,"h":-5.0},
{"x":289,"a":-5.52,"b":-5.55,"c":-5.48,"d":-5.28,"e":-4.85,"f":-4.02,"g":-4.2,"h":-4.15},
{"x":313,"a":-6.8,"b":-6.5,"c":-6.4,"d":-6.6,"e":-6.3,"f":-5.3,"g":-5.2,"h":-5.2},
{"x":337,"a":-5.6,"b":-5.65,"c":-5.45,"d":-5.45,"e":-5.0,"f":-3.92,"g":-4.05,"h":-4.25},
{"x":361,"a":-6.67,"b":-6.4,"c":-6.4,"d":-6.5,"e":-6.4,"f":-5.4,"g":-5.3,"h":-5.3},
{"x":385,"a":-5.62,"b":-5.45,"c":-5.5,"d":-5.32,"e":-4.92,"f":-4.15,"g":-3.9,"h":-4.08},
{"x":409,"a":-6.02,"b":-6.1,"c":-5.88,"d":-5.95,"e":-5.78,"f":-4.88,"g":-5.0,"h":-5.05},
{"x":433,"a":-6.87,"b":-6.7,"c":-6.85,"d":-6.85,"e":-6.4,"f":-5.5,"g":-5.4,"h":-5.6},
{"x":457,"a":-5.5,"b":-5.58,"c":-5.55,"d":-5.35,"e":-5.08,"f":-4.0,"g":-4.12,"h":-4.3},
{"x":481,"a":-6.25,"b":-6.02,"c":-6.05,"d":-5.88,"e":-5.72,"f":-5.1,"g":-4.85,"h":-5.0},
{"x":505,"a":-6.6,"b":-6.72,"c":-6.65,"d":-6.5,"e":-6.2,"f":-5.4,"g":-5.3,"h":-5.5},
{"x":529,"a":-5.65,"b":-5.5,"c":-5.45,"d":-5.4,"e":-4.88,"f":-4.12,"g":-3.92,"h":-4.1},
{"x":553,"a":-6.12,"b":-6.15,"c":-5.95,"d":-6.0,"e":-5.9,"f":-4.95,"g":-5.12,"h":-5.18},
{"x":577,"a":-5.55,"b":-5.6,"c":-5.52,"d":-5.35,"e":-5.02,"f":-3.9,"g":-4.15,"h":-4.35},
{"x":601,"a":-6.2,"b":-5.95,"c":-6.02,"d":-5.82,"e":-5.65,"f":-5.05,"g":-4.8,"h":-4.92},
{"x":625,"a":-5.8,"b":-5.85,"c":-5.7,"d":-5.7,"e":-5.4,"f":-4.55,"g":-4.4,"h":-4.65},
{"x":649,"a":-6.35,"b":-6.08,"c":-6.1,"d":-5.95,"e":-5.82,"f":-5.2,"g":-5.05,"h":-5.08},
{"x":673,"a":-5.52,"b":-5.55,"c":-5.42,"d":-5.3,"e":-4.95,"f":-4.05,"g":-3.92,"h":-4.2},
{"x":697,"a":-6.1,"b":-6.1,"c":-5.95,"d":-5.9,"e":-5.85,"f":-4.9,"g":-5.0,"h":-5.15},
{"x":721,"a":-5.68,"b":-5.5,"c":-5.55,"d":-5.45,"e":-4.9,"f":-4.18,"g":-4.08,"h":-4.12},
{"x":745,"a":-6.15,"b":-5.98,"c":-6.0,"d":-5.85,"e":-5.7,"f":-5.02,"g":-4.85,"h":-4.95},
{"x":769,"a":-5.55,"b":-5.6,"c":-5.45,"d":-5.38,"e":-5.05,"f":-3.95,"g":-4.02,"h":-4.32},
{"x":793,"a":-6.28,"b":-6.12,"c":-6.05,"d":-5.98,"e":-5.9,"f":-5.12,"g":-5.08,"h":-5.02},
{"x":817,"a":-5.62,"b":-5.48,"c":-5.52,"d":-5.32,"e":-4.92,"f":-3.75,"g":-4.1,"h":-4.15},
{"x":841,"a":-6.05,"b":-6.1,"c":-5.92,"d":-5.95,"e":-5.75,"f":-4.9,"g":-5.02,"h":-5.1},
{"x":865,"a":-5.5,"b":-5.55,"c":-5.5,"d":-5.4,"e":-4.88,"f":-4.12,"g":-3.9,"h":-4.05},
{"x":889,"a":-6.32,"b":-6.05,"c":-6.1,"d":-5.92,"e":-5.88,"f":-5.0,"g":-5.1,"h":-5.2},
{"x":913,"a":-5.75,"b":-5.8,"c":-5.65,"d":-5.6,"e":-5.25,"f":-4.4,"g":-4.5,"h":-4.5},
{"x":937,"a":-6.2,"b":-6.0,"c":-6.02,"d":-5.88,"e":-5.8,"f":-5.08,"g":-4.88,"h":-5.0},
{"x":961,"a":-5.6,"b":-5.58,"c":-5.45,"d":-5.42,"e":-4.98,"f":-3.95,"g":-4.12,"h":-4.28},
{"x":985,"a":-6.45,"b":-6.15,"c":-5.98,"d":-6.0,"e":-5.92,"f":-5.1,"g":-4.95,"h":-5.05},
{"x":1009,"a":-5.55,"b":-5.5,"c":-5.55,"d":-5.35,"e":-4.9,"f":-4.15,"g":-3.95,"h":-4.1},
{"x":1033,"a":-6.08,"b":-6.08,"c":-5.9,"d":-5.95,"e":-5.68,"f":-4.88,"g":-5.05,"h":-5.15},
{"x":1057,"a":-5.62,"b":-5.45,"c":-5.5,"d":-5.3,"e":-5.05,"f":-4.0,"g":-4.05,"h":-4.3},
{"x":1081,"a":-6.25,"b":-6.12,"c":-6.08,"d":-5.9,"e":-5.85,"f":-5.12,"g":-4.9,"h":-5.0},
{"x":1105,"a":-5.58,"b":-5.6,"c":-5.45,"d":-5.42,"e":-4.92,"f":-4.2,"g":-4.1,"h":-4.18},
{"x":1129,"a":-6.1,"b":-6.02,"c":-6.02,"d":-5.95,"e":-5.78,"f":-4.95,"g":-5.02,"h":-5.12},
{"x":1153,"a":-5.5,"b":-5.52,"c":-5.52,"d":-5.32,"e":-4.95,"f":-3.92,"g":-3.9,"h":-4.08},
{"x":1177,"a":-6.3,"b":-6.08,"c":-6.0,"d":-6.0,"e":-5.9,"f":-5.15,"g":-4.95,"h":-5.05},
{"x":1201,"a":-5.65,"b":-5.5,"c":-5.55,"d":-5.38,"e":-5.02,"f":-4.02,"g":-4.12,"h":-4.28},
{"x":1225,"a":-6.05,"b":-6.1,"c":-5.92,"d":-5.85,"e":-5.7,"f":-4.9,"g":-4.85,"h":-4.95},
{"x":1249,"a":-5.6,"b":-5.55,"c":-5.45,"d":-5.4,"e":-4.88,"f":-4.08,"g":-3.95,"h":-4.15},
{"x":1273,"a":-6.22,"b":-6.02,"c":-6.05,"d":-5.92,"e":-5.85,"f":-5.02,"g":-5.08,"h":-5.15},
{"x":1297,"a":-6.72,"b":-6.5,"c":-6.4,"d":-6.72,"e":-6.45,"f":-5.3,"g":-5.3,"h":-5.3},
{"x":1321,"a":-5.55,"b":-5.6,"c":-5.5,"d":-5.35,"e":-5.0,"f":-4.15,"g":-4.0,"h":-4.25},
{"x":1345,"a":-6.2,"b":-6.02,"c":-6.02,"d":-5.95,"e":-5.75,"f":-4.95,"g":-5.0,"h":-5.0},
{"x":1369,"a":-5.62,"b":-5.5,"c":-5.52,"d":-5.32,"e":-4.9,"f":-4.0,"g":-4.08,"h":-4.18},
{"x":1393,"a":-6.15,"b":-6.15,"c":-5.98,"d":-6.0,"e":-5.9,"f":-5.12,"g":-4.92,"h":-5.18},
{"x":1417,"a":-5.58,"b":-5.58,"c":-5.48,"d":-5.45,"e":-5.02,"f":-4.18,"g":-4.12,"h":-4.32},
{"x":1441,"a":-6.32,"b":-6.05,"c":-6.1,"d":-5.95,"e":-5.85,"f":-5.05,"g":-5.1,"h":-5.08},
{"x":1465,"a":-5.65,"b":-5.52,"c":-5.55,"d":-5.4,"e":-4.95,"f":-4.2,"g":-4.05,"h":-4.35},
{"x":1489,"a":-6.4,"b":-6.2,"c":-6.15,"d":-6.1,"e":-6.0,"f":-5.2,"g":-5.15,"h":-5.25},
{"x":1513,"a":-5.55,"b":-5.6,"c":-5.48,"d":-5.45,"e":-5.05,"f":-4.05,"g":-4.18,"h":-4.2},
{"x":1537,"a":-6.6,"b":-6.25,"c":-6.1,"d":-6.2,"e":-6.05,"f":-5.25,"g":-5.2,"h":-5.3},
{"x":1561,"a":-5.68,"b":-5.52,"c":-5.58,"d":-5.38,"e":-4.95,"f":-4.22,"g":-4.08,"h":-4.38},
{"x":1585,"a":-6.15,"b":-6.15,"c":-6.0,"d":-6.02,"e":-5.92,"f":-5.05,"g":-5.12,"h":-5.1},
{"x":1609,"a":-5.58,"b":-5.55,"c":-5.45,"d":-5.42,"e":-5.02,"f":-4.1,"g":-4.0,"h":-4.22},
{"x":1633,"a":-6.94,"b":-6.4,"c":-6.3,"d":-6.5,"e":-6.2,"f":-5.3,"g":-5.3,"h":-5.35},
{"x":1657,"a":-5.6,"b":-5.62,"c":-5.55,"d":-5.48,"e":-4.98,"f":-4.15,"g":-4.18,"h":-4.3},
{"x":1681,"a":-6.3,"b":-6.08,"c":-6.1,"d":-5.95,"e":-5.95,"f":-5.15,"g":-5.0,"h":-5.22},
{"x":1705,"a":-6.9,"b":-6.5,"c":-6.4,"d":-6.45,"e":-6.3,"f":-5.4,"g":-5.35,"h":-5.4},
{"x":1729,"a":-5.55,"b":-5.58,"c":-5.5,"d":-5.38,"e":-5.02,"f":-4.12,"g":-4.15,"h":-4.25},
{"x":1753,"a":-6.25,"b":-6.05,"c":-6.08,"d":-6.0,"e":-5.85,"f":-5.05,"g":-5.1,"h":-5.12},
{"x":1777,"a":-6.45,"b":-6.3,"c":-6.2,"d":-6.25,"e":-6.1,"f":-5.3,"g":-5.25,"h":-5.3},
{"x":1801,"a":-5.65,"b":-5.52,"c":-5.55,"d":-5.45,"e":-4.95,"f":-4.22,"g":-4.08,"h":-4.35},
{"x":1825,"a":-7.43,"b":-6.9,"c":-6.8,"d":-6.75,"e":-6.6,"f":-5.9,"g":-5.8,"h":-5.9},
{"x":1849,"a":-5.58,"b":-5.6,"c":-5.48,"d":-5.38,"e":-5.02,"f":-4.08,"g":-4.15,"h":-4.22},
{"x":1873,"a":-6.2,"b":-6.15,"c":-6.02,"d":-6.05,"e":-5.92,"f":-5.15,"g":-5.05,"h":-5.2},
{"x":1897,"a":-7.22,"b":-7.0,"c":-6.95,"d":-6.9,"e":-7.03,"f":-5.9,"g":-5.9,"h":-5.95},
{"x":1921,"a":-5.62,"b":-5.5,"c":-5.55,"d":-5.42,"e":-4.95,"f":-4.2,"g":-4.05,"h":-4.3},
{"x":1945,"a":-6.25,"b":-6.05,"c":-6.08,"d":-5.95,"e":-5.85,"f":-5.05,"g":-5.1,"h":-5.1},
{"x":1969,"a":-6.9,"b":-6.6,"c":-6.5,"d":-6.55,"e":-6.4,"f":-5.5,"g":-5.45,"h":-5.5},
{"x":1993,"a":-5.6,"b":-5.6,"c":-5.48,"d":-5.45,"e":-5.05,"f":-4.08,"g":-4.15,"h":-4.25},
{"x":2017,"a":-6.5,"b":-6.3,"c":-6.2,"d":-6.25,"e":-6.1,"f":-5.3,"g":-5.25,"h":-5.3},
{"x":2041,"a":-5.55,"b":-5.52,"c":-5.55,"d":-5.35,"e":-4.92,"f":-4.15,"g":-4.0,"h":-4.3},
{"x":2065,"a":-6.28,"b":-6.12,"c":-6.0,"d":-6.02,"e":-5.9,"f":-5.05,"g":-5.12,"h":-5.12},
{"x":2089,"a":-7.04,"b":-6.6,"c":-6.5,"d":-6.5,"e":-6.5,"f":-5.5,"g":-5.45,"h":-5.55},
{"x":2113,"a":-5.62,"b":-5.58,"c":-5.45,"d":-5.45,"e":-5.02,"f":-4.05,"g":-4.12,"h":-4.2},
{"x":2137,"a":-6.15,"b":-6.05,"c":-6.08,"d":-5.92,"e":-5.8,"f":-5.12,"g":-4.95,"h":-5.18},
{"x":2161,"a":-6.75,"b":-6.45,"c":-6.35,"d":-6.4,"e":-6.25,"f":-5.35,"g":-5.3,"h":-5.4},
{"x":2185,"a":-5.58,"b":-5.5,"c":-5.55,"d":-5.35,"e":-4.9,"f":-4.12,"g":-3.98,"h":-4.28},
{"x":2209,"a":-6.2,"b":-6.1,"c":-5.95,"d":-5.98,"e":-5.85,"f":-4.95,"g":-5.05,"h":-5.02},
{"x":2233,"a":-5.6,"b":-5.55,"c":-5.5,"d":-5.4,"e":-5.0,"f":-4.0,"g":-4.1,"h":-4.15},
{"x":2257,"a":-6.25,"b":-6.05,"c":-6.08,"d":-5.92,"e":-5.9,"f":-5.12,"g":-4.95,"h":-5.18},
{"x":2281,"a":-6.35,"b":-6.2,"c":-6.15,"d":-6.3,"e":-6.0,"f":-5.2,"g":-5.15,"h":-5.2},
{"x":2305,"a":-5.55,"b":-5.6,"c":-5.45,"d":-5.45,"e":-5.02,"f":-4.15,"g":-3.98,"h":-4.2},
{"x":2329,"a":-6.1,"b":-6.02,"c":-6.05,"d":-5.9,"e":-5.75,"f":-5.0,"g":-5.08,"h":-5.05},
{"x":2353,"a":-5.62,"b":-5.48,"c":-5.52,"d":-5.32,"e":-4.9,"f":-3.98,"g":-4.05,"h":-4.25},
{"x":2377,"a":-6.28,"b":-6.15,"c":-6.02,"d":-6.02,"e":-5.92,"f":-5.15,"g":-5.02,"h":-5.12},
{"x":2401,"a":-5.58,"b":-5.55,"c":-5.55,"d":-5.4,"e":-4.98,"f":-4.1,"g":-3.95,"h":-4.15},
{"x":2425,"a":-6.4,"b":-6.25,"c":-6.2,"d":-6.45,"e":-6.1,"f":-5.25,"g":-5.2,"h":-5.25},
{"x":2449,"a":-5.55,"b":-5.58,"c":-5.45,"d":-5.4,"e":-4.95,"f":-3.95,"g":-4.08,"h":-4.22},
{"x":2473,"a":-6.2,"b":-6.02,"c":-6.05,"d":-5.9,"e":-5.85,"f":-5.08,"g":-4.92,"h":-5.1},
{"x":2497,"a":-6.68,"b":-6.4,"c":-6.35,"d":-6.35,"e":-6.4,"f":-5.35,"g":-5.3,"h":-5.4},
{"x":2521,"a":-5.62,"b":-5.5,"c":-5.52,"d":-5.35,"e":-5.02,"f":-4.12,"g":-4.0,"h":-4.28},
{"x":2545,"a":-6.15,"b":-6.15,"c":-5.98,"d":-6.0,"e":-5.8,"f":-5.02,"g":-5.08,"h":-5.05},
{"x":2569,"a":-5.6,"b":-5.55,"c":-5.5,"d":-5.42,"e":-4.9,"f":-4.05,"g":-3.95,"h":-4.12},
{"x":2593,"a":-6.3,"b":-6.3,"c":-6.1,"d":-6.05,"e":-5.95,"f":-5.15,"g":-5.1,"h":-5.2},
{"x":2617,"a":-5.55,"b":-5.6,"c":-5.45,"d":-5.35,"e":-5.0,"f":-4.0,"g":-4.1,"h":-4.25},
{"x":2641,"a":-6.22,"b":-6.02,"c":-6.05,"d":-5.95,"e":-5.88,"f":-5.1,"g":-4.95,"h":-5.15},
{"x":2665,"a":-5.62,"b":-5.52,"c":-5.5,"d":-5.4,"e":-4.92,"f":-3.92,"g":-4.05,"h":-4.1},
{"x":2689,"a":-6.3,"b":-6.1,"c":-6.0,"d":-6.02,"e":-5.82,"f":-5.05,"g":-5.1,"h":-5.2},
{"x":2713,"a":-5.58,"b":-5.58,"c":-5.55,"d":-5.35,"e":-5.02,"f":-3.75,"g":-3.95,"h":-4.25},
{"x":2737,"a":-6.1,"b":-6.02,"c":-5.95,"d":-5.92,"e":-5.75,"f":-5.0,"g":-5.02,"h":-5.0},
{"x":2761,"a":-5.55,"b":-5.5,"c":-5.5,"d":-5.42,"e":-4.95,"f":-4.05,"g":-3.92,"h":-4.15},
{"x":2785,"a":-6.25,"b":-6.12,"c":-6.08,"d":-5.95,"e":-5.9,"f":-5.12,"g":-5.05,"h":-5.18},
{"x":2809,"a":-5.62,"b":-5.55,"c":-5.45,"d":-5.38,"e":-5.0,"f":-4.0,"g":-4.08,"h":-4.2},
{"x":2833,"a":-6.6,"b":-6.35,"c":-6.3,"d":-6.3,"e":-6.2,"f":-5.3,"g":-5.25,"h":-5.3},
{"x":2857,"a":-5.6,"b":-5.5,"c":-5.52,"d":-5.4,"e":-4.9,"f":-4.08,"g":-3.95,"h":-4.25},
{"x":2881,"a":-7.1,"b":-6.9,"c":-6.85,"d":-6.8,"e":-6.9,"f":-5.7,"g":-5.6,"h":-5.7},
{"x":2905,"a":-5.55,"b":-5.58,"c":-5.48,"d":-5.35,"e":-5.02,"f":-4.0,"g":-4.05,"h":-4.15},
{"x":2929,"a":-6.25,"b":-6.05,"c":-6.02,"d":-5.98,"e":-5.85,"f":-5.05,"g":-5.1,"h":-5.1},
{"x":2953,"a":-6.9,"b":-6.7,"c":-6.9,"d":-6.7,"e":-6.9,"f":-5.7,"g":-5.6,"h":-5.7},
{"x":2977,"a":-5.6,"b":-5.52,"c":-5.5,"d":-5.42,"e":-4.92,"f":-3.95,"g":-4.02,"h":-4.2},
{"x":3001,"a":-6.12,"b":-6.1,"c":-5.98,"d":-5.9,"e":-5.8,"f":-5.08,"g":-4.95,"h":-5.05},
{"x":3025,"a":-7.67,"b":-7.3,"c":-7.37,"d":-7.25,"e":-7.14,"f":-6.25,"g":-6.2,"h":-6.1},
{"x":3049,"a":-5.58,"b":-5.55,"c":-5.52,"d":-5.38,"e":-5.0,"f":-4.1,"g":-3.95,"h":-4.25},
{"x":3073,"a":-6.2,"b":-6.05,"c":-6.05,"d":-5.92,"e":-5.85,"f":-5.0,"g":-5.05,"h":-5.15},
{"x":3097,"a":-6.35,"b":-6.3,"c":-6.1,"d":-6.05,"e":-5.95,"f":-5.15,"g":-5.1,"h":-5.2},
{"x":3121,"a":-5.55,"b":-5.5,"c":-5.45,"d":-5.4,"e":-4.9,"f":-3.92,"g":-4.0,"h":-4.15},
{"x":3145,"a":-6.25,"b":-6.15,"c":-6.0,"d":-6.0,"e":-5.88,"f":-5.12,"g":-4.98,"h":-5.1},
{"x":3169,"a":-5.62,"b":-5.52,"c":-5.5,"d":-5.32,"e":-4.98,"f":-3.98,"g":-3.88,"h":-4.2},
{"x":3193,"a":-6.08,"b":-6.05,"c":-5.95,"d":-5.95,"e":-5.72,"f":-4.92,"g":-4.95,"h":-5.05},
{"x":3217,"a":-5.58,"b":-5.6,"c":-5.52,"d":-5.42,"e":-4.95,"f":-4.05,"g":-3.92,"h":-4.1},
{"x":3241,"a":-6.28,"b":-6.08,"c":-6.08,"d":-5.95,"e":-5.9,"f":-5.15,"g":-5.08,"h":-5.2},
{"x":3265,"a":-5.52,"b":-5.5,"c":-5.45,"d":-5.38,"e":-4.88,"f":-3.9,"g":-3.95,"h":-4.08},
{"x":3289,"a":-6.18,"b":-6.1,"c":-5.98,"d":-5.9,"e":-5.82,"f":-5.05,"g":-4.9,"h":-5.0},
{"x":3313,"a":-5.62,"b":-5.52,"c":-5.55,"d":-5.35,"e":-5.0,"f":-3.98,"g":-3.92,"h":-3.85},
{"x":3337,"a":-6.22,"b":-6.05,"c":-6.05,"d":-6.0,"e":-5.88,"f":-5.02,"g":-5.08,"h":-5.15},
{"x":3361,"a":-5.55,"b":-5.58,"c":-5.45,"d":-5.4,"e":-4.92,"f":-4.02,"g":-3.9,"h":-4.18},
{"x":3385,"a":-6.08,"b":-6.0,"c":-6.0,"d":-5.88,"e":-5.7,"f":-4.95,"g":-4.88,"h":-5.02},
{"x":3409,"a":-5.6,"b":-5.5,"c":-5.5,"d":-5.32,"e":-4.95,"f":-3.88,"g":-3.98,"h":-3.82},
{"x":3433,"a":-6.25,"b":-6.12,"c":-6.02,"d":-6.0,"e":-5.9,"f":-5.15,"g":-5.02,"h":-5.18},
{"x":3457,"a":-5.58,"b":-5.55,"c":-5.52,"d":-5.42,"e":-5.02,"f":-4.0,"g":-3.9,"h":-4.15},
{"x":3481,"a":-6.12,"b":-6.08,"c":-5.95,"d":-5.95,"e":-5.75,"f":-4.98,"g":-5.0,"h":-5.02},
{"x":3505,"a":-5.52,"b":-5.52,"c":-5.48,"d":-5.35,"e":-4.88,"f":-3.9,"g":-3.92,"h":-4.05},
{"x":3529,"a":-6.25,"b":-6.05,"c":-6.08,"d":-5.92,"e":-5.88,"f":-5.12,"g":-4.98,"h":-5.15},
{"x":3553,"a":-5.62,"b":-5.58,"c":-5.45,"d":-5.4,"e":-4.98,"f":-3.78,"g":-3.95,"h":-4.15},
{"x":3577,"a":-6.05,"b":-6.05,"c":-6.0,"d":-5.88,"e":-5.72,"f":-4.92,"g":-4.92,"h":-5.05},
{"x":3601,"a":-5.55,"b":-5.5,"c":-5.52,"d":-5.38,"e":-4.92,"f":-3.98,"g":-3.88,"h":-4.08},
{"x":3625,"a":-6.3,"b":-6.15,"c":-6.02,"d":-6.02,"e":-5.9,"f":-5.08,"g":-5.1,"h":-5.2},
{"x":3649,"a":-5.6,"b":-5.52,"c":-5.5,"d":-5.32,"e":-4.95,"f":-3.8,"g":-3.95,"h":-4.15},
{"x":3673,"a":-6.12,"b":-6.02,"c":-6.05,"d":-5.95,"e":-5.8,"f":-5.02,"g":-4.92,"h":-5.0},
{"x":3697,"a":-5.58,"b":-5.58,"c":-5.45,"d":-5.42,"e":-5.0,"f":-3.92,"g":-3.92,"h":-4.08},
{"x":3721,"a":-6.22,"b":-6.08,"c":-6.0,"d":-5.92,"e":-5.85,"f":-5.1,"g":-5.0,"h":-5.15},
{"x":3745,"a":-5.52,"b":-5.5,"c":-5.5,"d":-5.38,"e":-4.88,"f":-3.95,"g":-3.9,"h":-4.15},
{"x":3769,"a":-6.08,"b":-6.05,"c":-5.92,"d":-5.92,"e":-5.72,"f":-4.92,"g":-4.95,"h":-4.98},
{"x":3793,"a":-6.4,"b":-6.2,"c":-6.1,"d":-6.1,"e":-5.95,"f":-5.15,"g":-5.1,"h":-5.15},
{"x":3817,"a":-5.6,"b":-5.55,"c":-5.45,"d":-5.35,"e":-4.95,"f":-3.9,"g":-3.95,"h":-4.12},
{"x":3841,"a":-6.15,"b":-6.02,"c":-6.05,"d":-5.95,"e":-5.78,"f":-5.05,"g":-4.92,"h":-5.08},
{"x":3865,"a":-5.55,"b":-5.58,"c":-5.52,"d":-5.42,"e":-5.02,"f":-4.0,"g":-3.88,"h":-4.1},
{"x":3889,"a":-6.25,"b":-6.12,"c":-6.0,"d":-5.98,"e":-5.88,"f":-5.1,"g":-5.05,"h":-5.15},
{"x":3913,"a":-5.6,"b":-5.5,"c":-5.48,"d":-5.32,"e":-4.9,"f":-3.88,"g":-3.95,"h":-4.05},
{"x":3937,"a":-6.1,"b":-6.08,"c":-5.98,"d":-5.9,"e":-5.75,"f":-4.98,"g":-4.9,"h":-5.02},
{"x":3961,"a":-5.52,"b":-5.52,"c":-5.45,"d":-5.38,"e":-4.92,"f":-3.92,"g":-3.92,"h":-4.15},
{"x":3985,"a":-6.25,"b":-6.05,"c":-6.08,"d":-5.95,"e":-5.88,"f":-5.12,"g":-5.0,"h":-5.15},
{"x":4009,"a":-5.62,"b":-5.58,"c":-5.5,"d":-5.4,"e":-4.98,"f":-3.9,"g":-3.9,"h":-4.08},
{"x":4033,"a":-6.1,"b":-6.02,"c":-5.95,"d":-5.92,"e":-5.72,"f":-5.0,"g":-4.95,"h":-5.0},
{"x":4057,"a":-5.55,"b":-5.5,"c":-5.52,"d":-5.35,"e":-4.95,"f":-3.85,"g":-3.92,"h":-4.12},
{"x":4081,"a":-6.02,"b":-6.0,"c":-5.92,"d":-5.85,"e":-5.68,"f":-4.92,"g":-4.88,"h":-5.02},
{"x":4096,"a":-5.9,"b":-5.85,"c":-5.78,"d":-5.7,"e":-5.2,"f":-4.45,"g":-4.4,"h":-4.5}
]
},
"hconcat":[
{
 "width":525,"height":497,
 "title":{"text":["","Mean of Sample Means"],"lineHeight":16,"offset":8},
 "data":{"name":"m"},
 "layer":[
  {"transform":[{"fold":["a","b","c","d","e","f","g","h"],"as":["s","v"]}],
   "mark":{"type":"line","strokeWidth":1.2},
   "encoding":{
    "x":{"field":"x","type":"quantitative","scale":{"domain":[-162.8,4259.8],"nice":false,"zero":false},"axis":{"values":[0,1000,2000,3000,4000],"format":"d","title":"coordiantes","labelPadding":0,"titlePadding":3,"labelFlush":false}},
    "y":{"field":"s","type":"nominal","scale":{"type":"point","domain":["a","b","c","d","e","f","g","h"],"padding":1.064,"align":0.579},"axis":{"title":null,"labelExpr":"'0'","labelAngle":-90,"labelAlign":"center","labelBaseline":"bottom","labelPadding":5.5,"minExtent":43,"maxExtent":43}},
    "yOffset":{"field":"v","type":"quantitative","scale":{"domain":[0,100],"range":[0,-100]}},
    "order":{"field":"x","type":"quantitative"},
    "color":{"field":"s","type":"nominal","scale":{"domain":["a","b","c","d","e","f","g","h"],"range":["#0000FF","#FF0000","#000000","#A020F0","#FFA500","#00FF00","#FFFF00","#8B4A36"]},"legend":null}
   }},
  {"data":{"values":[{"s":"a"},{"s":"b"},{"s":"c"},{"s":"d"},{"s":"e"},{"s":"f"},{"s":"g"},{"s":"h"}]},
   "mark":{"type":"rule","strokeDash":[5,2,1.5,2],"color":"#222","strokeWidth":1},
   "encoding":{"y":{"field":"s","type":"nominal","axis":{"title":null}}}}
 ]
},
{
 "width":14,"height":584,
 "view":{"fill":"white","stroke":null},
 "data":{"values":[]},
 "mark":"point"
},
{
 "width":524,"height":497,
 "title":{"text":["","Varaince of Sample Means (Log Scale)"],"lineHeight":16,"offset":8},
 "data":{"name":"v"},
 "layer":[
  {"transform":[{"fold":["a","b","c","d"],"as":["s","v"]}],
   "mark":{"type":"line","strokeWidth":2.4},
   "encoding":{
    "x":{"field":"x","type":"quantitative","scale":{"domain":[-162.8,4259.8],"nice":false,"zero":false},"axis":{"values":[0,1000,2000,3000,4000],"format":"d","title":"coordiantes","labelPadding":0,"titlePadding":3,"labelFlush":false}},
    "y":{"field":"v","type":"quantitative","scale":{"domain":[-10.26,-3.45],"nice":false,"zero":false},"axis":{"values":[-10,-9,-8,-7,-6,-5,-4],"format":"d","title":null,"labelAngle":-90,"labelAlign":"center","labelBaseline":"bottom","labelPadding":3.5,"minExtent":19,"maxExtent":19}},
    "color":{"field":"s","type":"nominal","scale":{"domain":["a","b","c","d"],"range":["#0000FF","#FF0000","#000000","#A020F0"]},
     "legend":{"orient":"none","legendX":196.7,"legendY":330.5,"direction":"vertical","title":null,"strokeColor":"#333","padding":14,"rowPadding":6.9,"symbolType":"M-2,0H2","symbolSize":256,"symbolStrokeWidth":1.3,"symbolOffset":9.3,"labelOffset":23,
      "labelExpr":"datum.value=='a'?'HAMS−A':datum.value=='b'?'HAMS−1':datum.value=='c'?'HAMS−2':'HAMS−3'"}}
   }},
  {"transform":[{"fold":["e","f","g","h"],"as":["s","v"]}],
   "mark":{"type":"line","strokeWidth":2.4},
   "encoding":{
    "x":{"field":"x","type":"quantitative"},
    "y":{"field":"v","type":"quantitative"},
    "stroke":{"field":"s","type":"nominal","scale":{"domain":["e","f","g","h"],"range":["#FFA500","#00FF00","#FFFF00","#8B4A36"]},
     "legend":{"orient":"none","legendX":345,"legendY":330.5,"direction":"vertical","title":null,"strokeColor":"#333","padding":14,"rowPadding":6.9,"symbolType":"M-2,0H2","symbolSize":256,"symbolStrokeWidth":1.3,"symbolOffset":9.3,"labelOffset":23,
      "labelExpr":"datum.value=='e'?'HAMS−B':datum.value=='f'?'BAOAB':datum.value=='g'?'ABOBA':'BP'"}}
   }}
 ]
}
]
}
